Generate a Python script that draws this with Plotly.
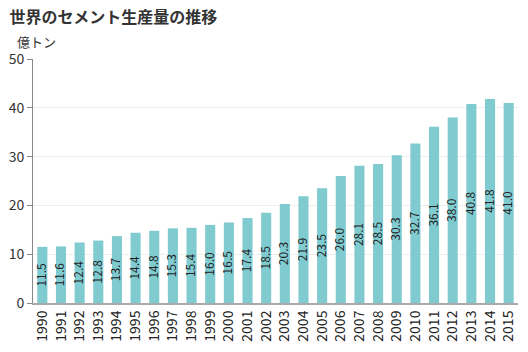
import plotly.graph_objects as go

years = [str(y) for y in range(1990, 2016)]
values = [11.5, 11.6, 12.4, 12.8, 13.7, 14.4, 14.8, 15.3, 15.4, 16.0, 16.5, 17.4, 18.5,
          20.3, 21.9, 23.5, 26.0, 28.1, 28.5, 30.3, 32.7, 36.1, 38.0, 40.8, 41.8, 41.0]
labels = [f"{v:.1f}" for v in values]

font = "Noto Sans CJK JP"
fig = go.Figure(go.Bar(
    x=years, y=values,
    marker=dict(color="#7fcbd0", line=dict(width=0)),
))
shapes = []
for i, (v, lab) in enumerate(zip(values, labels)):
    shapes.append(dict(
        type="line", xref="x", yref="y", x0=i, x1=i, y0=0, y1=v,
        line=dict(color="rgba(0,0,0,0)", width=0),
        label=dict(text=lab, textangle=-90, textposition="middle",
                   xanchor="center", yanchor="middle", padding=0,
                   font=dict(family=font, size=12, color="#222")),
    ))
fig.update_layout(
    width=528, height=352, margin=dict(l=33, r=10, t=59, b=49),
    paper_bgcolor="white", plot_bgcolor="white", bargap=0.46,
    font=dict(family=font, size=12, color="#333"),
    showlegend=False,
    title=dict(text="<b>世界のセメント生産量の推移</b>", x=0.018, xanchor="left",
               y=0.95, yanchor="middle", font=dict(size=16, color="#333", family=font)),
    annotations=[dict(text="億トン", xref="paper", yref="paper", x=-0.038, y=1.025,
                      xanchor="left", yanchor="bottom", showarrow=False,
                      font=dict(size=13, color="#333"))],
    shapes=shapes,
)
fig.update_xaxes(type="category", range=[-0.5, len(years) - 0.5], tickangle=-90,
                 showline=True, linecolor="#aaa", linewidth=2,
                 ticks="", tickfont=dict(size=14, color="#222"), fixedrange=True)
fig.update_yaxes(range=[0, 50], dtick=10, showline=True, linecolor="#888", linewidth=1,
                 ticks="outside", ticklen=5, tickcolor="#888", gridcolor="#eceeef",
                 tickfont=dict(size=14, color="#333"), zeroline=False)
fig.write_html("out.html")
